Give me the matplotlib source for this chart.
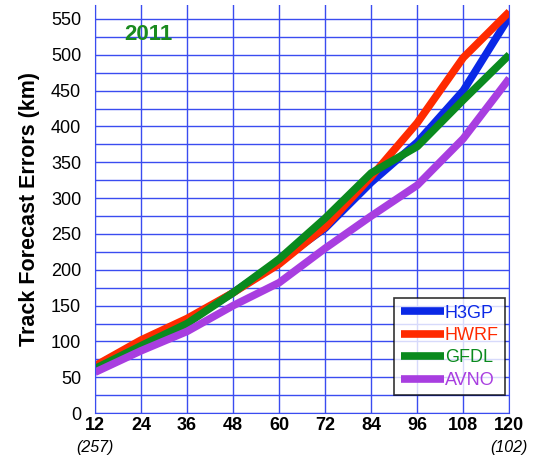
import matplotlib
matplotlib.use("Agg")
import matplotlib.pyplot as plt
from matplotlib.ticker import MultipleLocator

plt.rcParams["font.family"] = ["Liberation Sans", "DejaVu Sans"]

# forecast hour and track errors (km)
hours = [12, 24, 36, 48, 60, 72, 84, 96, 108, 120]
h3gp = [65, 100, 128, 168, 212, 258, 322, 378, 450, 553]
hwrf = [66, 102, 132, 168, 208, 260, 330, 405, 496, 560]
gfdl = [62, 94, 125, 168, 215, 272, 335, 372, 437, 500]
avno = [57, 87, 114, 150, 182, 230, 275, 318, 383, 467]
series = [("H3GP", h3gp, "#0a28e6"), ("HWRF", hwrf, "#ff2a00"),
          ("GFDL", gfdl, "#0a8a1e"), ("AVNO", avno, "#a83ee0")]
case_counts = {12: "(257)", 120: "(102)"}

GRID = "#3a4cf0"

fig = plt.figure(figsize=(5.43, 4.58), dpi=100)
ax = fig.add_axes([0.175, 0.098, 0.763, 0.892])

for name, vals, color in series:
    ax.plot(hours, vals, color=color, lw=5.5, label=name, solid_capstyle="butt")

ax.set_xlim(12, 120)
ax.set_ylim(0, 570)
ax.set_xticks(hours)
ax.yaxis.set_minor_locator(MultipleLocator(25))
ax.set_yticks(list(range(0, 551, 50)))
ax.grid(True, which="both", axis="y", color=GRID, lw=1)
ax.grid(True, which="major", axis="x", color=GRID, lw=1)
ax.set_axisbelow(True)
ax.tick_params(which="both", length=0)
ax.tick_params(axis="y", labelsize=13, pad=10)
ax.tick_params(axis="x", labelsize=13, pad=3)
for lab in ax.get_xticklabels():
    lab.set_fontweight("bold")
for side in ("left", "bottom", "right"):
    ax.spines[side].set_color(GRID)
ax.spines["top"].set_visible(False)

ax.set_ylabel("Track Forecast Errors (km)", fontsize=15.5, fontweight="bold",
              labelpad=8)

for h, txt in case_counts.items():
    ax.annotate(txt, xy=(h, 0), xycoords="data", xytext=(0, -19),
                textcoords="offset points", ha="center", va="top",
                fontsize=11.5, style="italic")

ax.text(26, 528, "2011", color="#1a8a1e", fontsize=16, fontweight="bold",
        ha="center", va="center")

leg = ax.legend(loc="lower right", bbox_to_anchor=(0.99, 0.044), fontsize=13,
                frameon=True, fancybox=False, handlelength=2.4,
                handletextpad=0.05, borderpad=0.35, labelspacing=0.3,
                borderaxespad=0)
leg.get_frame().set_edgecolor("black")
leg.get_frame().set_linewidth(1.2)
for text, (_, _, color) in zip(leg.get_texts(), series):
    text.set_color(color)

fig.savefig("out.png", dpi=100)
